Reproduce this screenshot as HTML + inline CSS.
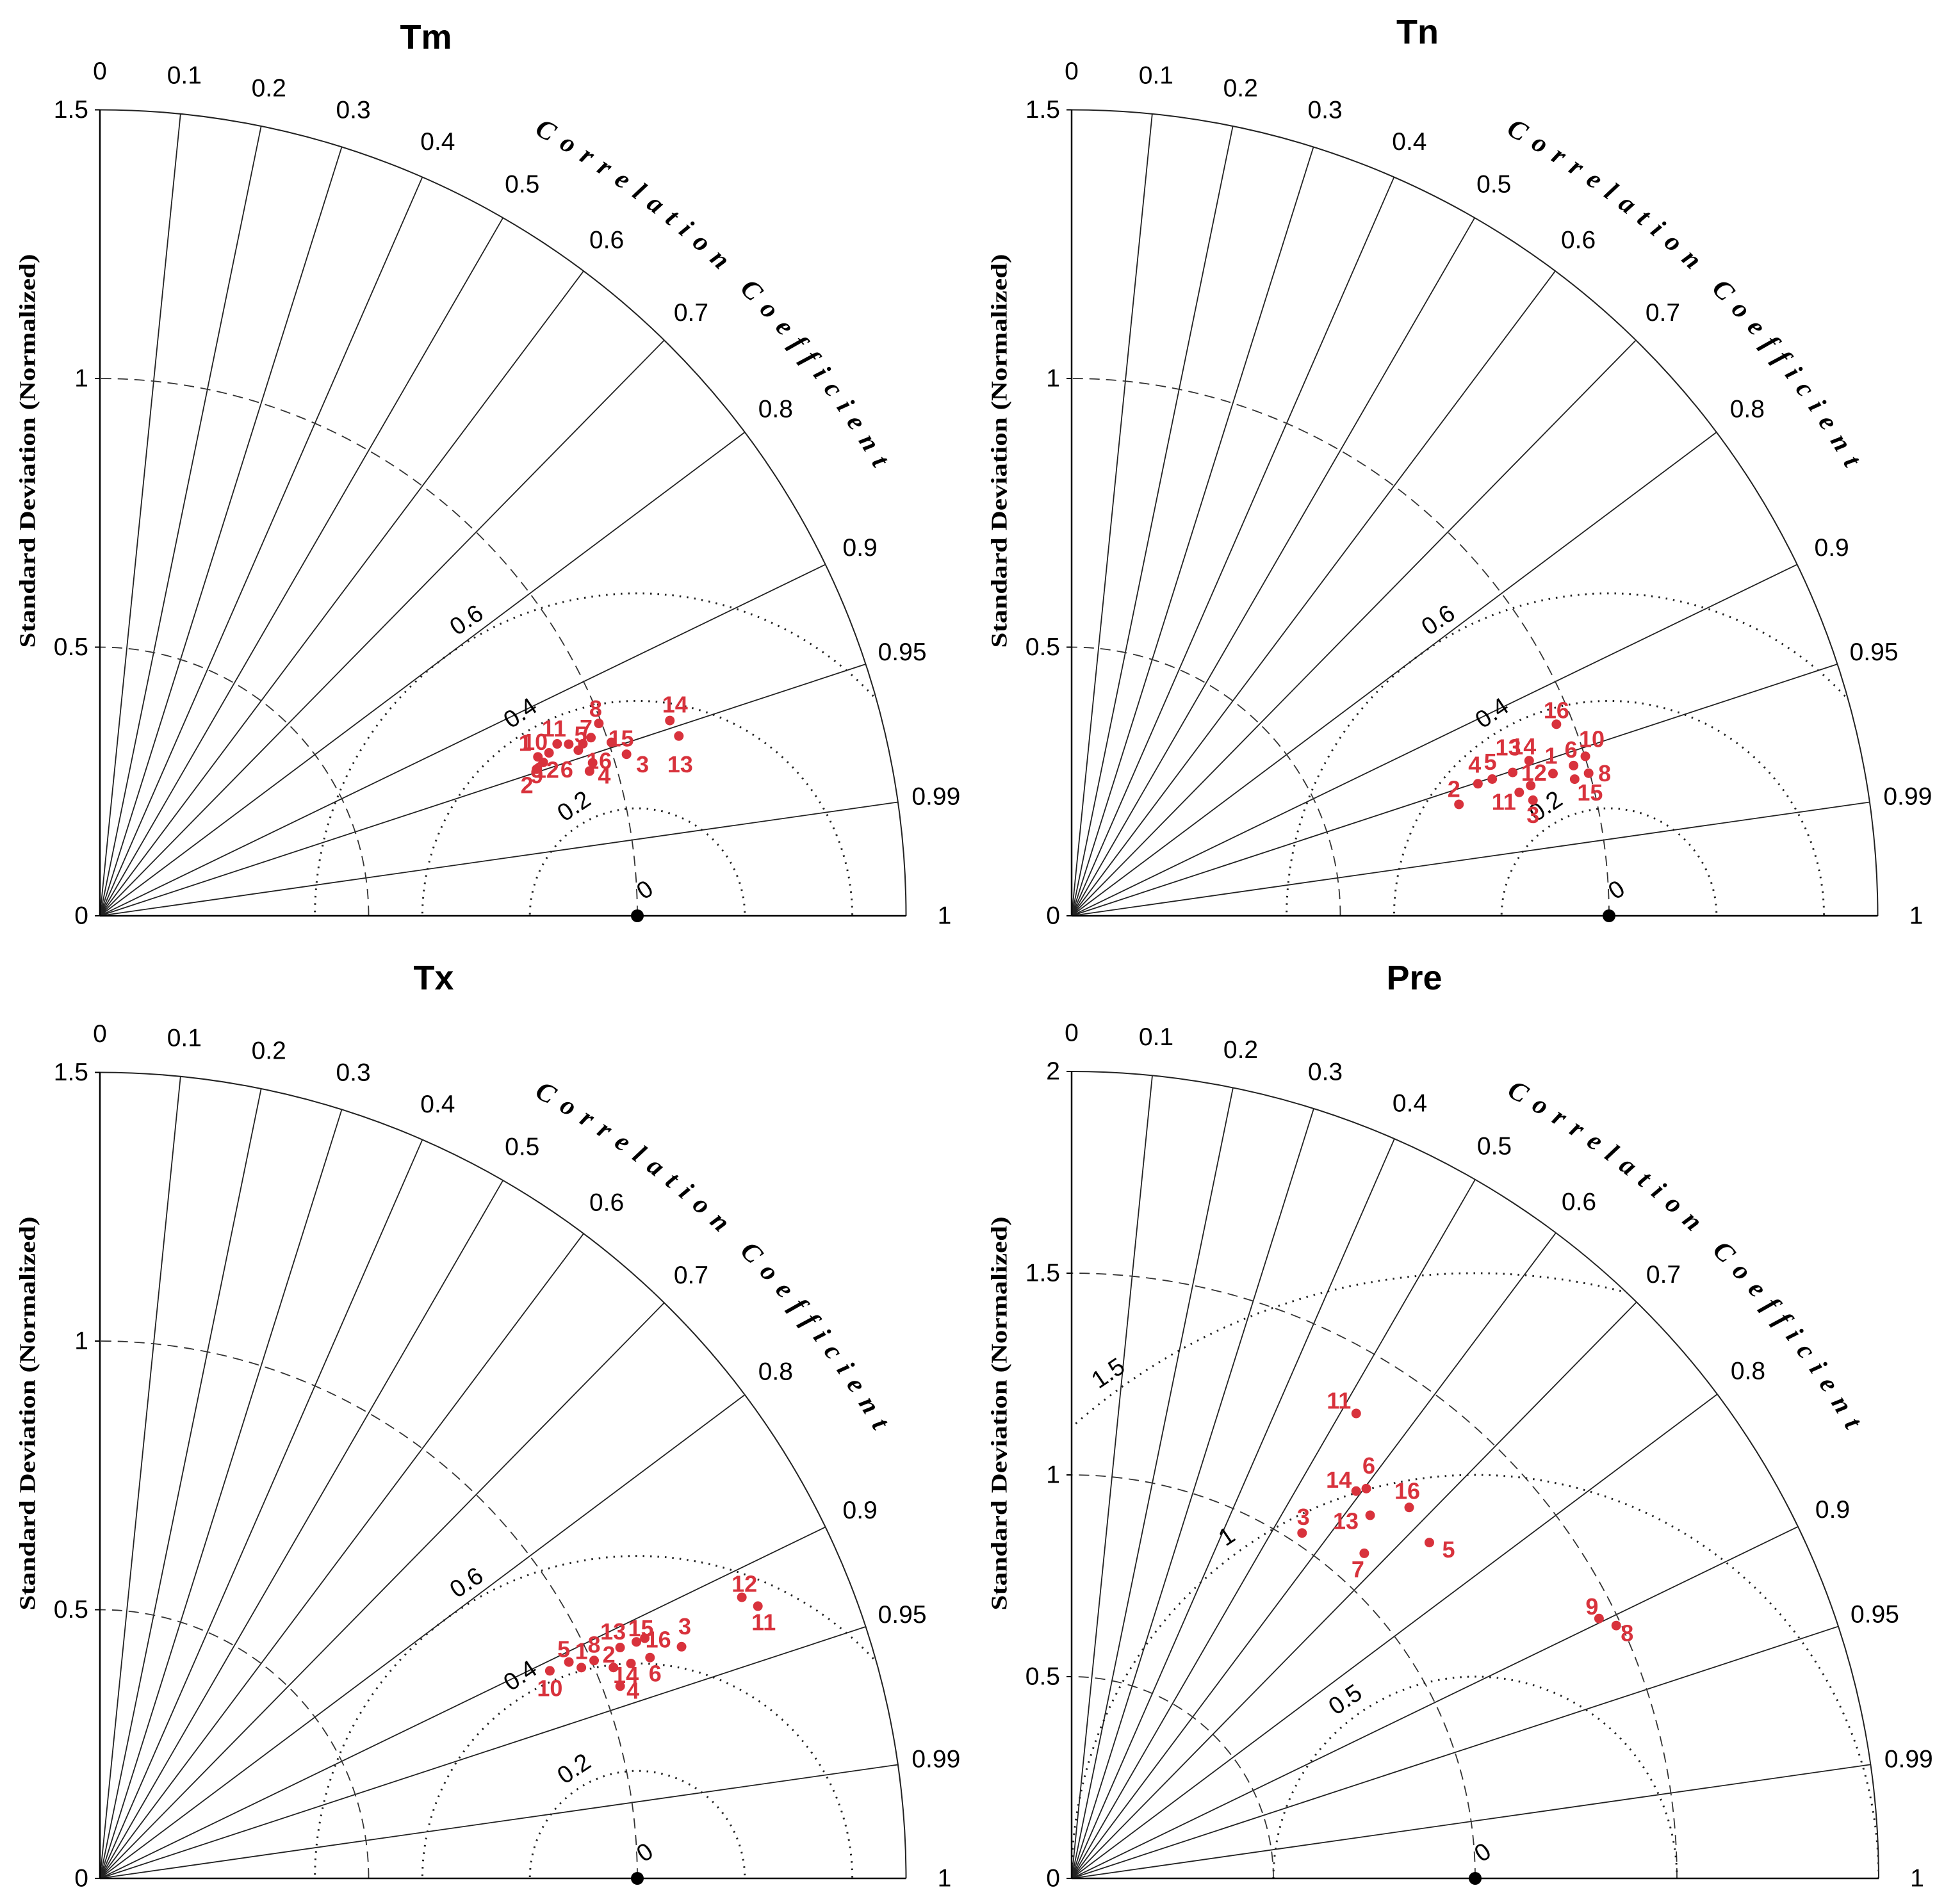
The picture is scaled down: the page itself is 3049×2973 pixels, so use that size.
<!DOCTYPE html>
<html><head><meta charset="utf-8"><style>
html,body{margin:0;padding:0;background:#fff;overflow:hidden;width:3049px;height:2973px;}
svg{display:block;}
</style></head><body>
<svg id="chart" xmlns="http://www.w3.org/2000/svg" width="3049" height="2973" viewBox="0 0 3049 2973"></svg>
<script>
// ---- Data (standard deviation normalized, correlation) ----
const tmIds = [1,2,3,4,5,6,7,8,9,10,11,12,13,14,15,16];
const tmSd = [0.867,0.857,1.025,0.950,0.972,0.942,0.954,0.995,0.873,0.889,0.909,0.929,1.128,1.121,1.005,0.960];
const tmCorr = [0.940,0.948,0.956,0.959,0.940,0.945,0.942,0.933,0.945,0.940,0.936,0.939,0.955,0.946,0.947,0.955];

const tnIds = [16,10,6,8,15,1,12,14,13,5,4,2,11,3];
const tnSd = [0.970,1.001,0.975,0.998,0.970,0.934,0.888,0.899,0.863,0.823,0.795,0.750,0.864,0.885];
const tnCorr = [0.930,0.955,0.958,0.964,0.965,0.959,0.962,0.947,0.951,0.951,0.951,0.961,0.964,0.970];

const txIds = [12,11,3,16,15,6,14,13,2,4,8,1,5,10];
const txSd = [1.304,1.325,1.165,1.108,1.091,1.103,1.066,1.059,1.033,1.032,1.005,0.978,0.961,0.922];
const txCorr = [0.916,0.924,0.929,0.915,0.915,0.928,0.927,0.914,0.925,0.938,0.915,0.916,0.908,0.908];

const preIds = [11,14,6,16,13,3,5,7,9,8];
const preSd = [1.351,1.191,1.211,1.243,1.165,1.029,1.216,1.084,1.457,1.488];
const preCorr = [0.522,0.592,0.603,0.673,0.635,0.555,0.729,0.669,0.897,0.907];

const corrTicks = [0,0.1,0.2,0.3,0.4,0.5,0.6,0.7,0.8,0.9,0.95,0.99,1];
const sdTicks15 = [0,0.5,1,1.5];
const sdTicks2 = [0,0.5,1,1.5,2];
const rmsSmall = [0.2,0.4,0.6];
const rmsPre = [0.5,1,1.5];

// ---- Layout (label offsets in px, not data) ----
const tmOff = [[-20,-22],[-15,25],[25,16],[23,7],[-16,-5],[-18,30],[5,-25],[-5,-23],[-10,20],[-22,-17],[-5,-24],[-35,40],[2,44],[8,-25],[15,-6],[10,-3]];
const tnOff = [[0,-22],[10,-27],[-4,-25],[25,0],[24,21],[-3,-28],[5,-20],[-9,-22],[-7,-39],[-3,-27],[-5,-30],[-8,-24],[-24,15],[0,23]];
const txOff = [[4,-21],[9,25],[5,-32],[21,2],[7,-21],[8,25],[-8,18],[-11,-25],[-7,-20],[20,7],[0,-25],[0,-26],[-8,-20],[0,27]];
const preOff = [[-27,-20],[-27,-18],[4,-36],[-3,-26],[-38,9],[2,-25],[30,11],[-10,25],[-11,-19],[17,12]];

const panels = [
  {key:'tm', title:'Tm', ox:156, oy:1430, max:1.5, scale:839, tx:665, ty:58, ticks:sdTicks15, dashed:[0.5,1], rms:rmsSmall, ids:tmIds, sd:tmSd, corr:tmCorr, off:tmOff},
  {key:'tn', title:'Tn', ox:1673, oy:1430, max:1.5, scale:839, tx:2213, ty:50, ticks:sdTicks15, dashed:[0.5,1], rms:rmsSmall, ids:tnIds, sd:tnSd, corr:tnCorr, off:tnOff},
  {key:'tx', title:'Tx', ox:156, oy:2933, max:1.5, scale:839, tx:677, ty:1527, ticks:sdTicks15, dashed:[0.5,1], rms:rmsSmall, ids:txIds, sd:txSd, corr:txCorr, off:txOff},
  {key:'pre', title:'Pre', ox:1673, oy:2933, max:2, scale:630, tx:2208, ty:1527, ticks:sdTicks2, dashed:[0.5,1,1.5], rms:rmsPre, ids:preIds, sd:preSd, corr:preCorr, off:preOff}
];

const NS = 'http://www.w3.org/2000/svg';
const svg = document.getElementById('chart');
function mk(tag, attrs, parent){
  const e = document.createElementNS(NS, tag);
  for (const k in attrs) e.setAttribute(k, attrs[k]);
  (parent||svg).appendChild(e);
  return e;
}
const defs = mk('defs', {});

panels.forEach(function(p){
  const g = mk('g', {});
  
  
  const R = p.max * p.scale;
  const X = function(sd, c){ return p.ox + sd * p.scale * c; };
  const Y = function(sd, c){ return p.oy - sd * p.scale * Math.sqrt(Math.max(0,1 - c*c)); };

  const cp = mk('clipPath', {id:'clip-' + p.key}, defs);
  mk('path', {d:'M'+p.ox+','+p.oy+' L'+(p.ox+R)+','+p.oy+' A'+R+','+R+' 0 0 0 '+p.ox+','+(p.oy-R)+' Z'}, cp);

  const t = mk('text', {x:p.tx, y:p.ty, 'text-anchor':'middle', 'dominant-baseline':'central', 'font-family':'Liberation Sans, sans-serif', 'font-weight':'bold', 'font-size':54, fill:'#000'}, g);
  t.textContent = p.title;
  
  

  corrTicks.forEach(function(c){
    if (c === 0 || c === 1) return;
    const l = mk('line', {x1:p.ox, y1:p.oy, x2:X(p.max,c), y2:Y(p.max,c), stroke:'#222', 'stroke-width':1.8}, g);
    
    
  });
  corrTicks.forEach(function(c){
    const rr = p.max * (1 + 60/R);
    const lt = mk('text', {x:X(rr,c), y:Y(rr,c), 'text-anchor':'middle', 'dominant-baseline':'central', 'font-family':'Liberation Sans, sans-serif', 'font-size':39, fill:'#000'}, g);
    lt.textContent = String(c);
    
    
  });

  p.dashed.forEach(function(s){
    const r = s * p.scale;
    const a = mk('path', {d:'M'+(p.ox+r)+','+p.oy+' A'+r+','+r+' 0 0 0 '+p.ox+','+(p.oy-r), fill:'none', stroke:'#333', 'stroke-width':1.8, 'stroke-dasharray':'16 10'}, g);
    
    
  });

  const refX = p.ox + 1 * p.scale;
  p.rms.forEach(function(r){
    const c = mk('circle', {cx:refX, cy:p.oy, r:r*p.scale, fill:'none', stroke:'#222', 'stroke-width':3, 'stroke-dasharray':'2.5 9', 'clip-path':'url(#clip-'+p.key+')'}, g);
    
    
    const ang = (p.key === 'pre' ? 126 : 120) * Math.PI/180;
    const rl = r + 0.035 * (p.max/1.5);
    const lx = refX + rl * p.scale * Math.cos(ang), ly = p.oy - rl * p.scale * Math.sin(ang);
    const rt = mk('text', {x:lx, y:ly, 'text-anchor':'middle', 'dominant-baseline':'central', 'font-family':'Liberation Sans, sans-serif', 'font-size':38, fill:'#000', transform:'rotate(-34 '+lx+' '+ly+')'}, g);
    rt.textContent = String(r);
    
    
  });
  const z = mk('text', {x:refX+12, y:p.oy-40, 'text-anchor':'middle', 'dominant-baseline':'central', 'font-family':'Liberation Sans, sans-serif', 'font-size':38, fill:'#000', transform:'rotate(-34 '+(refX+12)+' '+(p.oy-40)+')'}, g);
  z.textContent = '0';
  
  

  const oa = mk('path', {d:'M'+(p.ox+R)+','+p.oy+' A'+R+','+R+' 0 0 0 '+p.ox+','+(p.oy-R), fill:'none', stroke:'#222', 'stroke-width':2}, g);
  
  
  const ya = mk('line', {x1:p.ox, y1:p.oy, x2:p.ox, y2:p.oy-R, stroke:'#000', 'stroke-width':2.5}, g);
  
  
  const xa = mk('line', {x1:p.ox, y1:p.oy, x2:p.ox+R, y2:p.oy, stroke:'#000', 'stroke-width':2.5}, g);
  
  

  p.ticks.forEach(function(s){
    const yy = p.oy - s * p.scale;
    const tk = mk('line', {x1:p.ox-8, y1:yy, x2:p.ox, y2:yy, stroke:'#000', 'stroke-width':2}, g);
    
    
    const tl = mk('text', {x:p.ox-18, y:yy, 'text-anchor':'end', 'dominant-baseline':'central', 'font-family':'Liberation Sans, sans-serif', 'font-size':39, fill:'#000'}, g);
    tl.textContent = String(s);
    
    
  });

  const ycx = p.ox - 113, ycy = p.oy - 726;
  const yt = mk('text', {x:ycx, y:ycy, 'text-anchor':'middle', 'dominant-baseline':'central', 'font-family':'Liberation Serif, serif', 'font-weight':'bold', 'font-size':35, fill:'#000', transform:'rotate(-90 '+ycx+' '+ycy+')', textLength:615, lengthAdjust:'spacingAndGlyphs'}, g);
  yt.textContent = 'Standard Deviation (Normalized)';
  
  

  const cr = R * 1.11;
  const a1 = 61*Math.PI/180, a2 = 28*Math.PI/180;
  const pth = mk('path', {id:'cc-'+p.key, d:'M'+(p.ox+cr*Math.cos(a1))+','+(p.oy-cr*Math.sin(a1))+' A'+cr+','+cr+' 0 0 1 '+(p.ox+cr*Math.cos(a2))+','+(p.oy-cr*Math.sin(a2))}, defs);
  const ct = mk('text', {'font-family':'Liberation Serif, serif', 'font-weight':'bold', 'font-style':'italic', 'font-size':42, fill:'#000'}, g);
  
  
  const tp = mk('textPath', {href:'#cc-'+p.key, textLength: cr*31*Math.PI/180, lengthAdjust:'spacing'}, ct);
  tp.textContent = 'Correlation Coefficient';

  const rp = mk('circle', {cx:refX, cy:p.oy, r:10, fill:'#000'}, g);
  
  

  p.ids.forEach(function(id, i){
    const px = X(p.sd[i], p.corr[i]), py = Y(p.sd[i], p.corr[i]);
    const d = mk('circle', {cx:px, cy:py, r:7.5, fill:'#d8323c'}, g);
    
    
    const o = p.off[i];
    const lb = mk('text', {x:px+o[0], y:py+o[1], 'text-anchor':'middle', 'dominant-baseline':'central', 'font-family':'Liberation Sans, sans-serif', 'font-weight':'bold', 'font-size':36, fill:'#d8323c'}, g);
    lb.textContent = String(id);
    
    
  });
});
</script>
</body></html>
